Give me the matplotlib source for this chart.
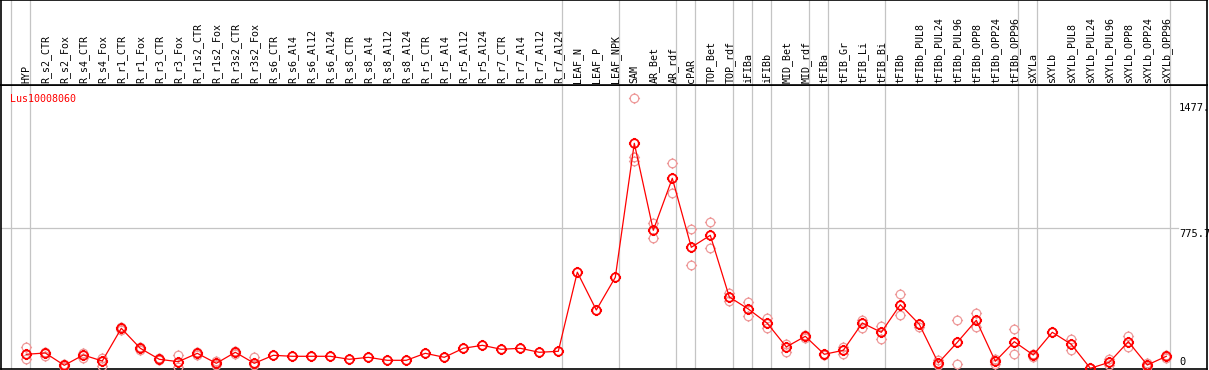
import numpy as np
import matplotlib
matplotlib.use("Agg")
import matplotlib.pyplot as plt
from matplotlib.path import Path

categories = ["HYP", "R_s2_CTR", "R_s2_Fox", "R_s4_CTR", "R_s4_Fox", "R_r1_CTR", "R_r1_Fox",
              "R_r3_CTR", "R_r3_Fox", "R_r1s2_CTR", "R_r1s2_Fox", "R_r3s2_CTR", "R_r3s2_Fox",
              "R_s6_CTR", "R_s6_Al4", "R_s6_Al12", "R_s6_Al24", "R_s8_CTR", "R_s8_Al4",
              "R_s8_Al12", "R_s8_Al24", "R_r5_CTR", "R_r5_Al4", "R_r5_Al12", "R_r5_Al24",
              "R_r7_CTR", "R_r7_Al4", "R_r7_Al12", "R_r7_Al24", "LEAF_N", "LEAF_P", "LEAF_NPK",
              "SAM", "AR_Bet", "AR_rdf", "cPAR", "TOP_Bet", "TOP_rdf", "iFIBa", "iFIBb",
              "MID_Bet", "MID_rdf", "tFIBa", "tFIB_Gr", "tFIB_Li", "tFIB_Bi", "tFIBb",
              "tFIBb_PUL8", "tFIBb_PUL24", "tFIBb_PUL96", "tFIBb_OPP8", "tFIBb_OPP24",
              "tFIBb_OPP96", "sXYLa", "sXYLb", "sXYLb_PUL8", "sXYLb_PUL24", "sXYLb_PUL96",
              "sXYLb_OPP8", "sXYLb_OPP24", "sXYLb_OPP96"]

means = [77.6, 84.8, 16.6, 73.7, 40.4, 221.6, 110.8, 49.9, 36.6, 83.1, 27.7, 88.7, 27.7,
         72.0, 66.5, 66.5, 66.5, 49.9, 60.9, 44.3, 44.3, 83.1, 60.9, 110.8, 127.4,
         105.3, 110.8, 88.7, 94.2, 532.5, 323.0, 504.2,
         1246.7, 764.6, 1052.7, 670.4, 736.9, 395.0, 328.6, 249.3,
         118.5, 177.3, 77.6, 99.7, 251.0, 199.5, 352.4,
         243.8, 29.4, 144.0, 266.0, 38.8, 147.4, 73.7, 199.5, 133.0,
         0.0, 33.2, 147.4, 18.3, 66.5]

replicate_a = [118.0, 92.0, 23.8, 83.1, 58.7, 230.5, 116.4, 55.4, 73.7, 90.3, 42.1, 94.2, 60.9,
               None, None, None, None, None, None, None, None, None, None, None, None,
               None, None, None, None, None, None, None,
               1496.0, 806.7, 1135.8, 770.2, 810.6, 415.6, 365.7, 277.0,
               133.0, 184.0, 82.0, 119.7, 267.6, 237.0, 410.0,
               246.0, 46.0, 267.6, 304.7, 49.9, 216.1, 79.2, 199.5, 162.3,
               0.0, 51.5, 179.0, 31.0, 73.7]

replicate_b = [53.2, 69.8, 8.9, 57.0, 14.4, 212.2, 101.4, 44.3, 8.9, 75.4, 16.6, 80.9, 16.6,
               None, None, None, None, None, None, None, None, None, None, None, None,
               None, None, None, None, None, None, None,
               1172.4, 723.6, 969.6, 570.7, 668.2, 372.9, 291.4, 223.3,
               92.0, 169.5, 73.7, 80.9, 225.0, 165.0, 293.7,
               230.0, 18.3, 22.2, 227.2, 23.8, 77.6, 60.9, 199.5, 99.7,
               0.0, 18.3, 119.7, 8.9, 58.7]

replicate_c = [None] * 32 + [1148.6] + [None] * 28

group_breaks = [0, 1, 29, 32, 35, 36, 38, 39, 40, 42, 43, 46, 53, 54, 61]
ytick_values = [0, 775.7, 1477.0]
ytick_labels = ["0", "775.7", "1477."]
gene_name = "Lus10008060"

W, H = 1209, 370
fig = plt.figure(figsize=(W / 100, H / 100), dpi=100)

def px_to_x(px):
    return (px - 26.3) / 19.0

k = 0.18048
y0 = 368.3
ylo = -(369 - y0) / k
yhi = (y0 - 85) / k
xlo, xhi = px_to_x(1), px_to_x(1207)

ax = fig.add_axes([1 / W, (H - 369) / H, 1206 / W, (369 - 85) / H])
hx = fig.add_axes([1 / W, (H - 85) / H, 1206 / W, 85 / H], sharex=ax)

for a in (ax, hx):
    a.set_xlim(xlo, xhi)
    a.set_xticks([])
    a.set_yticks([])
    for s in a.spines.values():
        s.set_color("black")
        s.set_linewidth(1.2)
    for b in group_breaks:
        a.axvline(b - 0.8053, color="#c4c4c4", lw=0.9, zorder=1)
    a.set_facecolor("white")

ax.set_ylim(ylo, yhi)
hx.set_ylim(0, 1)

ax.axhline(775.7, xmin=0, xmax=(1178 - 1) / 1206, color="#c4c4c4", lw=0.9, zorder=1)

# marker: circle with small ticks
circ = Path.unit_circle()
verts = list(circ.vertices)
codes = list(circ.codes)
for (x1, y1, x2, y2) in [(0, 1, 0, 1.3), (0, -1, 0, -1.3), (1, 0, 1.3, 0), (-1, 0, -1.3, 0)]:
    verts += [(x1, y1), (x2, y2)]
    codes += [Path.MOVETO, Path.LINETO]
tick_circle = Path(verts, codes)

x = np.arange(len(categories))
for reps in (replicate_a, replicate_b, replicate_c):
    xs = [xi for xi, v in zip(x, reps) if v is not None]
    vs = [v for v in reps if v is not None]
    ax.plot(xs, vs, linestyle="none", marker=tick_circle, ms=8, mfc="none",
            mec="#ee9a9a", mew=0.9, zorder=3, clip_on=False)

ax.plot(x, means, color="#ff0000", lw=0.9, zorder=4, clip_on=False)
ax.plot(x, means, linestyle="none", marker=tick_circle, ms=8, mfc="none",
        mec="#ff0000", mew=1.3, zorder=5, clip_on=False)

for i, name in enumerate(categories):
    hx.text(i - 0.253, (85 - 83.3) / 85, name, rotation=90, ha="left", va="bottom",
            fontsize=7.2, family="DejaVu Sans Mono", color="black")

ax.text(px_to_x(10), (y0 - 94.3) / k, gene_name, color="#ff0000", fontsize=7.2,
        family="DejaVu Sans Mono", ha="left", va="top")

lab_x = px_to_x(1179)
for v, t in zip(ytick_values, ytick_labels):
    if v == 0:
        ax.text(lab_x, v + 8, t, fontsize=7.5, family="DejaVu Sans Mono", ha="left", va="bottom")
    else:
        ax.text(lab_x, v - 5, t, fontsize=7.5, family="DejaVu Sans Mono", ha="left", va="top")

fig.savefig("out.png", dpi=100)
